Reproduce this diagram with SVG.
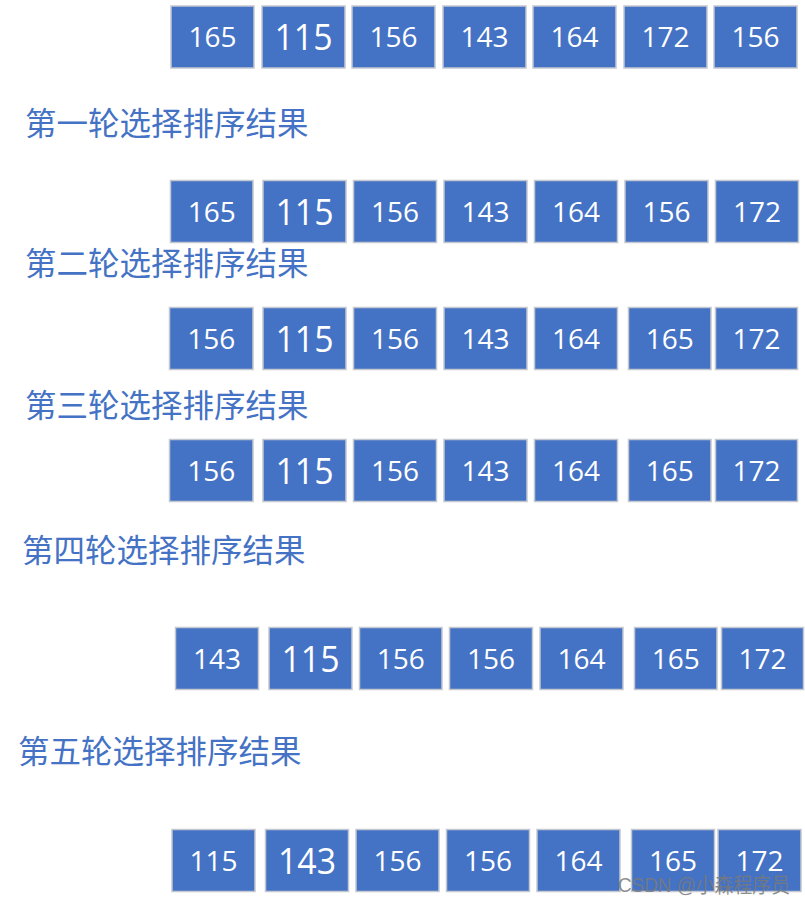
<svg xmlns="http://www.w3.org/2000/svg" width="805" height="904" viewBox="0 0 805 904">
<style>
.b rect{fill:#4472C4;stroke:#C3C8D0;stroke-width:1.5}
.b text{fill:#fff;font-family:"Open Sans","Liberation Sans",sans-serif;font-size:28px;text-anchor:middle}
.b text.big{font-size:37px}
.t{fill:#4472C4;font-family:"Noto Sans CJK SC","Noto Sans",sans-serif;font-size:31.5px}
.wm{fill:#7a7a7a;fill-opacity:0.85;font-family:"Liberation Sans","Noto Sans CJK SC",sans-serif;font-size:21px}
</style>
<rect width="805" height="904" fill="#fff"/>
<g id="row1">
<g id="r1b1" class="b"><rect x="171" y="6" width="83" height="62"/><text x="212.5" y="47">165</text></g>
<g id="r1b2" class="b"><rect x="262" y="6" width="83" height="62"/><text x="303.5" y="50" class="big" textLength="58" lengthAdjust="spacingAndGlyphs">115</text></g>
<g id="r1b3" class="b"><rect x="352" y="6" width="83" height="62"/><text x="393.5" y="47">156</text></g>
<g id="r1b4" class="b"><rect x="443" y="6" width="83" height="62"/><text x="484.5" y="47">143</text></g>
<g id="r1b5" class="b"><rect x="533" y="6" width="83" height="62"/><text x="574.5" y="47">164</text></g>
<g id="r1b6" class="b"><rect x="624" y="6" width="83" height="62"/><text x="665.5" y="47">172</text></g>
<g id="r1b7" class="b"><rect x="714" y="6" width="83" height="62"/><text x="755.5" y="47">156</text></g>
</g>
<text id="title1" class="t" x="25" y="135">第一轮选择排序结果</text>
<g id="row2">
<g id="r2b1" class="b"><rect x="170.5" y="180.5" width="82.5" height="62"/><text x="211.7" y="221.5">165</text></g>
<g id="r2b2" class="b"><rect x="263" y="180.5" width="83" height="62"/><text x="304.5" y="224.5" class="big" textLength="58" lengthAdjust="spacingAndGlyphs">115</text></g>
<g id="r2b3" class="b"><rect x="353.5" y="180.5" width="83" height="62"/><text x="395" y="221.5">156</text></g>
<g id="r2b4" class="b"><rect x="444" y="180.5" width="83" height="62"/><text x="485.5" y="221.5">143</text></g>
<g id="r2b5" class="b"><rect x="534.5" y="180.5" width="83" height="62"/><text x="576" y="221.5">164</text></g>
<g id="r2b6" class="b"><rect x="625" y="180.5" width="83" height="62"/><text x="666.5" y="221.5">156</text></g>
<g id="r2b7" class="b"><rect x="715.5" y="180.5" width="83" height="62"/><text x="757" y="221.5">172</text></g>
</g>
<text id="title2" class="t" x="25" y="275">第二轮选择排序结果</text>
<g id="row3">
<g id="r3b1" class="b"><rect x="169.5" y="307.5" width="83.5" height="62"/><text x="211.2" y="348.5">156</text></g>
<g id="r3b2" class="b"><rect x="263" y="307.5" width="83" height="62"/><text x="304.5" y="351.5" class="big" textLength="58" lengthAdjust="spacingAndGlyphs">115</text></g>
<g id="r3b3" class="b"><rect x="353.5" y="307.5" width="83" height="62"/><text x="395" y="348.5">156</text></g>
<g id="r3b4" class="b"><rect x="444" y="307.5" width="83" height="62"/><text x="485.5" y="348.5">143</text></g>
<g id="r3b5" class="b"><rect x="534.5" y="307.5" width="83" height="62"/><text x="576" y="348.5">164</text></g>
<g id="r3b6" class="b"><rect x="628.5" y="307.5" width="82.5" height="62"/><text x="669.7" y="348.5">165</text></g>
<g id="r3b7" class="b"><rect x="715.5" y="307.5" width="82" height="62"/><text x="756.5" y="348.5">172</text></g>
</g>
<text id="title3" class="t" x="25" y="417">第三轮选择排序结果</text>
<g id="row4">
<g id="r4b1" class="b"><rect x="169.5" y="439.5" width="83.5" height="62"/><text x="211.2" y="480.5">156</text></g>
<g id="r4b2" class="b"><rect x="263" y="439.5" width="83" height="62"/><text x="304.5" y="483.5" class="big" textLength="58" lengthAdjust="spacingAndGlyphs">115</text></g>
<g id="r4b3" class="b"><rect x="353.5" y="439.5" width="83" height="62"/><text x="395" y="480.5">156</text></g>
<g id="r4b4" class="b"><rect x="444" y="439.5" width="83" height="62"/><text x="485.5" y="480.5">143</text></g>
<g id="r4b5" class="b"><rect x="534.5" y="439.5" width="83" height="62"/><text x="576" y="480.5">164</text></g>
<g id="r4b6" class="b"><rect x="628.5" y="439.5" width="82.5" height="62"/><text x="669.7" y="480.5">165</text></g>
<g id="r4b7" class="b"><rect x="715.5" y="439.5" width="82" height="62"/><text x="756.5" y="480.5">172</text></g>
</g>
<text id="title4" class="t" x="22" y="562">第四轮选择排序结果</text>
<g id="row5">
<g id="r5b1" class="b"><rect x="175.5" y="627.5" width="83" height="62"/><text x="217" y="668.5">143</text></g>
<g id="r5b2" class="b"><rect x="269" y="627.5" width="83" height="62"/><text x="310.5" y="671.5" class="big" textLength="58" lengthAdjust="spacingAndGlyphs">115</text></g>
<g id="r5b3" class="b"><rect x="359.5" y="627.5" width="82.5" height="62"/><text x="400.7" y="668.5">156</text></g>
<g id="r5b4" class="b"><rect x="449.5" y="627.5" width="83" height="62"/><text x="491" y="668.5">156</text></g>
<g id="r5b5" class="b"><rect x="540" y="627.5" width="83" height="62"/><text x="581.5" y="668.5">164</text></g>
<g id="r5b6" class="b"><rect x="634.5" y="627.5" width="82.5" height="62"/><text x="675.7" y="668.5">165</text></g>
<g id="r5b7" class="b"><rect x="721.5" y="627.5" width="82" height="62"/><text x="762.5" y="668.5">172</text></g>
</g>
<text id="title5" class="t" x="18" y="763">第五轮选择排序结果</text>
<g id="row6">
<g id="r6b1" class="b"><rect x="172" y="829.5" width="83" height="62"/><text x="213.5" y="870.5">115</text></g>
<g id="r6b2" class="b"><rect x="265.5" y="829.5" width="83" height="62"/><text x="307" y="873.5" class="big" textLength="58" lengthAdjust="spacingAndGlyphs">143</text></g>
<g id="r6b3" class="b"><rect x="356" y="829.5" width="83" height="62"/><text x="397.5" y="870.5">156</text></g>
<g id="r6b4" class="b"><rect x="446.5" y="829.5" width="83" height="62"/><text x="488" y="870.5">156</text></g>
<g id="r6b5" class="b"><rect x="537" y="829.5" width="83" height="62"/><text x="578.5" y="870.5">164</text></g>
<g id="r6b6" class="b"><rect x="631.5" y="829.5" width="83" height="62"/><text x="673" y="870.5">165</text></g>
<g id="r6b7" class="b"><rect x="718" y="829.5" width="83" height="62"/><text x="759.5" y="870.5">172</text></g>
</g>
<text id="watermark" class="wm" x="618" y="892" textLength="172" lengthAdjust="spacingAndGlyphs">CSDN @小森程序员</text>
</svg>
